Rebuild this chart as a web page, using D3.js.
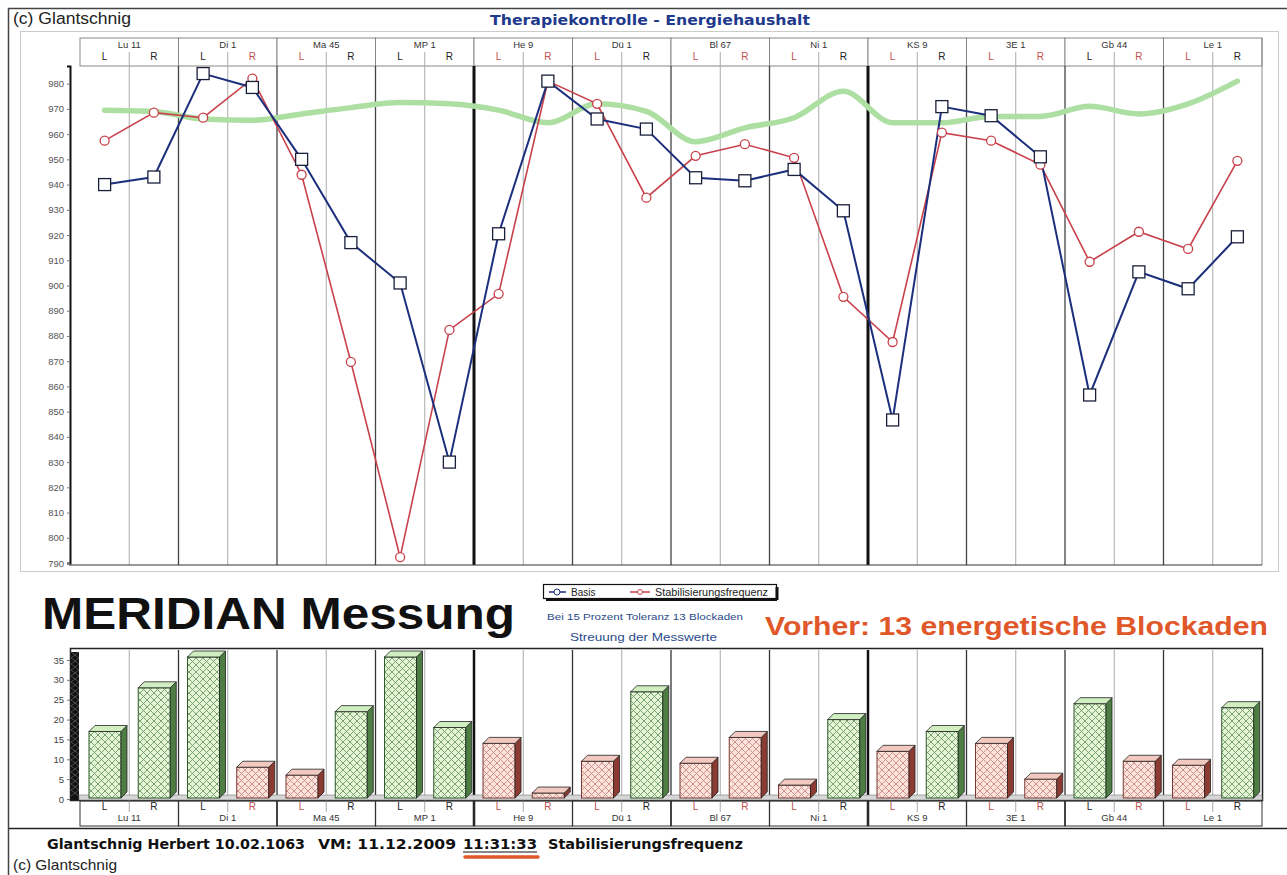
<!DOCTYPE html>
<html>
<head>
<meta charset="utf-8">
<script src="https://cdn.jsdelivr.net/npm/d3@7"></script>
<style>
  body { margin: 0; background: #fff; }
  svg { display: block; font-family: "Liberation Sans", Arial, sans-serif; }
  .narrow { font-family: "Liberation Sans Narrow", "Liberation Sans", sans-serif; }
  .wide { font-family: "DejaVu Sans", Verdana, sans-serif; }
</style>
</head>
<body>
<svg width="1287" height="875"></svg>
<script>
// data
const meridians = ["Lu 11", "Di 1", "Ma 45", "MP 1", "He 9", "Dü 1", "Bl 67", "Ni 1", "KS 9", "3E 1", "Gb 44", "Le 1"];
const sides = ["L", "R"];
// one value per column: Lu11 L, Lu11 R, Di1 L, ...
const basis = [940, 943, 984, 978.5, 950, 917, 901, 830, 920.5, 981, 966, 962,
  942.7, 941.5, 946, 929.6, 846.7, 970.9, 967.3, 951, 856.6, 905.4, 898.7, 919.3];
const stabil = [957.4, 968.5, 966.5, 982, 943.9, 869.7, 792.3, 882.4, 896.7, 981, 972, 934.8,
  951.4, 956, 950.6, 895.5, 877.6, 960.6, 957.4, 947.9, 909.4, 921.3, 914.5, 949.4];
const reference = [969.5, 969, 966, 965.5, 968, 970.5, 972.5, 972, 969.5, 964.5, 972, 969,
  957, 962.5, 966.5, 977, 964.5, 964.5, 967, 967, 971, 968, 972, 981];
const streuung = [17, 28, 36, 8, 6, 22, 36, 18, 14, 1.5, 9.5, 27,
  9, 15.5, 3.5, 20, 12, 17, 14, 5, 24, 9.5, 8.5, 23];
const blockade = [0, 0, 0, 1, 1, 0, 0, 0, 1, 1, 1, 0,
  1, 1, 1, 0, 1, 0, 1, 1, 0, 1, 1, 0];
const yTicks = d3.range(790, 981, 10);
const barTicks = [0, 5, 10, 15, 20, 25, 30, 35];

const columns = meridians.flatMap(m => sides.map(s => m + "|" + s));
const svg = d3.select("svg");

//* scales
const xGroup = d3.scaleBand().domain(meridians).range([80, 1262]);
const xCol = d3.scaleBand().domain(columns).range([80, 1262]);
const xc = i => xCol(columns[i]) + xCol.bandwidth() / 2;
const y = d3.scaleLinear().domain([790, 987]).range([563, 66]);
const yBar = d3.scaleLinear().domain([0, 35]).range([799, 660]);

// text helper with a fixed drawn width
const label = (x, yy, size, txt, len, cls) => svg.append("text").attr("class", cls || null)
  .attr("x", x).attr("y", yy).attr("font-size", size)
  .attr("textLength", len).attr("lengthAdjust", "spacingAndGlyphs").text(txt);

//* frame
svg.append("rect").attr("x", 8.5).attr("y", 8.5).attr("width", 1290).attr("height", 880)
  .attr("fill", "none").attr("stroke", "#444").attr("stroke-width", 1.5);
label(13, 24, 16, "(c) Glantschnig", 118, "narrow").attr("fill", "#222");
label(490, 25, 14, "Therapiekontrolle - Energiehaushalt", 320, "wide")
  .attr("font-weight", "bold").attr("fill", "#1f3a8c");
svg.append("rect").attr("x", 20.5).attr("y", 31.5).attr("width", 1258).attr("height", 540)
  .attr("fill", "none").attr("stroke", "#ccc");

//* header table
const head = svg.append("g");
head.selectAll("rect").data(meridians).join("rect")
  .attr("x", d => xGroup(d)).attr("y", 38).attr("width", xGroup.bandwidth()).attr("height", 28)
  .attr("fill", "#fff").attr("stroke", "#888");
head.selectAll("text.m").data(meridians).join("text").attr("class", "m narrow")
  .attr("x", d => xGroup(d) + xGroup.bandwidth() / 2).attr("y", 48)
  .attr("text-anchor", "middle").attr("font-size", 9.5).attr("fill", "#333").text(d => d);
head.selectAll("text.s").data(columns).join("text").attr("class", "s narrow")
  .attr("x", (d, i) => xc(i)).attr("y", 60).attr("text-anchor", "middle")
  .attr("font-size", 10).attr("fill", (d, i) => blockade[i] ? "#c0504d" : "#222")
  .text(d => d.split("|")[1]);

//* grid lines top chart
const grid = svg.append("g");
grid.selectAll("line.c").data(meridians).join("line")
  .attr("x1", d => xGroup(d) + xGroup.bandwidth() / 2).attr("x2", d => xGroup(d) + xGroup.bandwidth() / 2)
  .attr("y1", 52).attr("y2", 565).attr("stroke", "#aaa").attr("stroke-width", 1);
const thick = ["He 9", "KS 9"];
grid.selectAll("line.g").data(meridians.slice(1)).join("line")
  .attr("x1", d => xGroup(d)).attr("x2", d => xGroup(d))
  .attr("y1", 66).attr("y2", 565)
  .attr("stroke", d => thick.includes(d) ? "#111" : "#444")
  .attr("stroke-width", d => thick.includes(d) ? 3 : 1.3);
svg.append("line").attr("x1", 1262).attr("x2", 1262).attr("y1", 38).attr("y2", 565).attr("stroke", "#888");

//* y axis
const yAxis = svg.append("g").attr("transform", "translate(70,0)")
  .call(d3.axisLeft(y).tickValues(yTicks).tickSize(3));
yAxis.select(".domain").attr("stroke", "#111").attr("stroke-width", 2);
yAxis.selectAll("text").attr("class", "narrow").attr("font-size", 9.5).attr("fill", "#555");
yAxis.selectAll(".tick line").attr("stroke", "#777");
svg.append("line").attr("x1", 69).attr("x2", 1262).attr("y1", 565).attr("y2", 565).attr("stroke", "#333");

//* lines
svg.append("path").datum(reference)
  .attr("d", d3.line().x((d, i) => xc(i)).y(d => y(d)).curve(d3.curveMonotoneX))
  .attr("fill", "none").attr("stroke", "#addfa3").attr("stroke-width", 5.5).attr("stroke-linecap", "round");
svg.append("path").datum(stabil)
  .attr("d", d3.line().x((d, i) => xc(i)).y(d => y(d)))
  .attr("fill", "none").attr("stroke", "#c8414b").attr("stroke-width", 1.6);
svg.append("path").datum(basis)
  .attr("d", d3.line().x((d, i) => xc(i)).y(d => y(d)))
  .attr("fill", "none").attr("stroke", "#1c2f7c").attr("stroke-width", 2);
svg.append("g").selectAll("circle").data(stabil).join("circle")
  .attr("cx", (d, i) => xc(i)).attr("cy", d => y(d)).attr("r", 4.5)
  .attr("fill", "#fff").attr("stroke", "#c8414b").attr("stroke-width", 1.3);
svg.append("g").selectAll("rect").data(basis).join("rect")
  .attr("x", (d, i) => xc(i) - 6).attr("y", d => y(d) - 6).attr("width", 12).attr("height", 12)
  .attr("fill", "#fff").attr("stroke", "#1a1f3a").attr("stroke-width", 1.3);

//* middle texts
label(42, 629, 44, "MERIDIAN Messung", 473).attr("font-weight", "bold").attr("fill", "#111");
const leg = svg.append("g");
leg.append("rect").attr("x", 543.5).attr("y", 584.5).attr("width", 233).attr("height", 14)
  .attr("fill", "#fff").attr("stroke", "#111").attr("stroke-width", 1.2);
leg.append("line").attr("x1", 777).attr("x2", 777).attr("y1", 587).attr("y2", 600).attr("stroke", "#111").attr("stroke-width", 3);
leg.append("line").attr("x1", 546).attr("x2", 777).attr("y1", 600).attr("y2", 600).attr("stroke", "#111").attr("stroke-width", 2);
leg.append("line").attr("x1", 549).attr("x2", 566).attr("y1", 592).attr("y2", 592).attr("stroke", "#1c2f7c").attr("stroke-width", 1.5);
leg.append("circle").attr("cx", 557).attr("cy", 592).attr("r", 3).attr("fill", "#fff").attr("stroke", "#1c2f7c");
leg.append("text").attr("class", "narrow").attr("x", 571).attr("y", 595.5).attr("font-size", 10).attr("fill", "#222").text("Basis");
leg.append("line").attr("x1", 630).attr("x2", 650).attr("y1", 592).attr("y2", 592).attr("stroke", "#c8414b").attr("stroke-width", 1.5);
leg.append("circle").attr("cx", 640).attr("cy", 592).attr("r", 2.5).attr("fill", "#fff").attr("stroke", "#c8414b");
leg.append("text").attr("class", "narrow").attr("x", 655).attr("y", 595.5).attr("font-size", 10).attr("fill", "#222")
  .attr("textLength", 113).attr("lengthAdjust", "spacingAndGlyphs").text("Stabilisierungsfrequenz");
label(547, 620, 9.5, "Bei 15 Prozent Toleranz 13 Blockaden", 196, "narrow").attr("fill", "#2a4a8a");
label(570, 641, 11, "Streuung der Messwerte", 147).attr("fill", "#2a4a8a");
label(765, 635, 26, "Vorher: 13 energetische Blockaden", 503).attr("font-weight", "bold").attr("fill", "#e0572a");

//* bar chart
const defs = svg.append("defs");
const pat = (id, bg, fg) => {
  const p = defs.append("pattern").attr("id", id).attr("patternUnits", "userSpaceOnUse")
    .attr("width", 7).attr("height", 7);
  p.append("rect").attr("width", 7).attr("height", 7).attr("fill", bg);
  p.append("path").attr("d", "M0,0L7,7M7,0L0,7").attr("stroke", fg).attr("stroke-width", 0.9);
};
pat("hatchG", "#e4f5d8", "#6f9a63");
pat("hatchR", "#fbe3dc", "#c98a84");

svg.append("rect").attr("x", 70.5).attr("y", 648.5).attr("width", 1192).attr("height", 152)
  .attr("fill", "#fff").attr("stroke", "#222").attr("stroke-width", 1.5);
svg.append("rect").attr("x", 71).attr("y", 652).attr("width", 8).attr("height", 148).attr("fill", "#111");
svg.append("path").attr("d", d3.range(652, 796, 6).map(v => `M71,${v}L79,${v + 6}M79,${v}L71,${v + 6}`).join(""))
  .attr("stroke", "#666").attr("stroke-width", 0.7);

const bgrid = svg.append("g");
bgrid.selectAll("line.c").data(meridians).join("line")
  .attr("x1", d => xGroup(d) + xGroup.bandwidth() / 2).attr("x2", d => xGroup(d) + xGroup.bandwidth() / 2)
  .attr("y1", 650).attr("y2", 812).attr("stroke", "#aaa");
bgrid.selectAll("line.g").data(meridians.slice(1)).join("line")
  .attr("x1", d => xGroup(d)).attr("x2", d => xGroup(d))
  .attr("y1", 650).attr("y2", 826)
  .attr("stroke", d => thick.includes(d) ? "#111" : "#333")
  .attr("stroke-width", d => thick.includes(d) ? 2.5 : 1.3);

// floor
svg.append("rect").attr("x", 79).attr("y", 795).attr("width", 1183).attr("height", 5).attr("fill", "#d6d6d6")
  .attr("stroke", "#777").attr("stroke-width", 0.6);

const bAxis = svg.append("g").attr("transform", "translate(70,0)")
  .call(d3.axisLeft(yBar).tickValues(barTicks).tickSize(3));
bAxis.select(".domain").remove();
bAxis.selectAll("text").attr("class", "narrow").attr("font-size", 9.5).attr("fill", "#444");
bAxis.selectAll(".tick line").attr("stroke", "#777");

const dep = 6, bw = 32;
const bars = svg.append("g").selectAll("g").data(streuung).join("g");
const bx = i => xCol(columns[i]) + 9;
const barTop = d => Math.max(yBar(d), 657);
bars.append("rect").attr("x", (d, i) => bx(i)).attr("y", d => barTop(d))
  .attr("width", bw).attr("height", d => 798 - barTop(d))
  .attr("fill", (d, i) => blockade[i] ? "url(#hatchR)" : "url(#hatchG)")
  .attr("stroke", (d, i) => blockade[i] ? "#7a3a33" : "#2f5a2a").attr("stroke-width", 1);
bars.append("path")
  .attr("d", (d, i) => `M${bx(i) + bw},${barTop(d)}l${dep},${-dep}V${798 - dep}l${-dep},${dep}Z`)
  .attr("fill", (d, i) => blockade[i] ? "#8c3b32" : "#4d7d42").attr("stroke", "#222").attr("stroke-width", 0.8);
bars.append("path")
  .attr("d", (d, i) => `M${bx(i)},${barTop(d)}l${dep},${-dep}h${bw}l${-dep},${dep}Z`)
  .attr("fill", (d, i) => blockade[i] ? "#f2c9c0" : "#d0eec0").attr("stroke", "#222").attr("stroke-width", 0.8);

// label table under bars
const lab = svg.append("g");
lab.selectAll("rect").data(meridians).join("rect")
  .attr("x", d => xGroup(d)).attr("y", 801).attr("width", xGroup.bandwidth()).attr("height", 25)
  .attr("fill", "none").attr("stroke", "#333");
lab.selectAll("text.s").data(columns).join("text").attr("class", "s narrow")
  .attr("x", (d, i) => xc(i)).attr("y", 810).attr("text-anchor", "middle")
  .attr("font-size", 10).attr("fill", (d, i) => blockade[i] ? "#c0504d" : "#222")
  .text(d => d.split("|")[1]);
lab.selectAll("text.m").data(meridians).join("text").attr("class", "m narrow")
  .attr("x", d => xGroup(d) + xGroup.bandwidth() / 2).attr("y", 821)
  .attr("text-anchor", "middle").attr("font-size", 9.5).attr("fill", "#333").text(d => d);

//* footer
svg.append("line").attr("x1", 9).attr("x2", 1287).attr("y1", 828.5).attr("y2", 828.5).attr("stroke", "#222").attr("stroke-width", 1.5);
label(47, 849, 13.5, "Glantschnig Herbert 10.02.1063", 258, "wide").attr("font-weight", "bold").attr("fill", "#111");
label(318, 849, 13.5, "VM: 11.12.2009", 138, "wide").attr("font-weight", "bold").attr("fill", "#111");
label(463, 849, 13.5, "11:31:33", 74, "wide").attr("font-weight", "bold").attr("fill", "#111");
label(548, 849, 13.5, "Stabilisierungsfrequenz", 195, "wide").attr("font-weight", "bold").attr("fill", "#111");
svg.append("line").attr("x1", 463).attr("x2", 537).attr("y1", 852).attr("y2", 852).attr("stroke", "#111").attr("stroke-width", 1);
svg.append("line").attr("x1", 465).attr("x2", 538).attr("y1", 857).attr("y2", 857)
  .attr("stroke", "#e0572a").attr("stroke-width", 3.5).attr("stroke-linecap", "round");
label(13, 870, 15, "(c) Glantschnig", 104, "narrow").attr("fill", "#222");
</script>
</body>
</html>
